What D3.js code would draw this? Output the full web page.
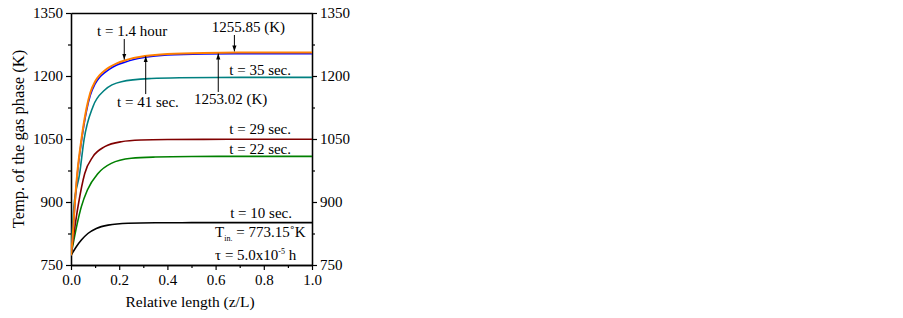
<!DOCTYPE html>
<html><head><meta charset="utf-8">
<script src="https://cdn.jsdelivr.net/npm/d3@7"></script>
<style>
html,body{margin:0;padding:0;background:#fff;}
svg text{font-family:"Liberation Serif","Times New Roman",serif;fill:#000;}
</style></head>
<body><svg id="chart" width="903" height="318"></svg>
<script>
// ---- data ----
const xTicks = [0.0, 0.2, 0.4, 0.6, 0.8, 1.0];
const yTicks = [750, 900, 1050, 1200, 1350];
const seriesNames = ["t = 10 sec.", "t = 22 sec.", "t = 29 sec.", "t = 35 sec.", "t = 41 sec.", "t = 1.4 hour"];
const seriesColors = ["#000000", "#008000", "#800000", "#008080", "#0000FF", "#FF8000"];
const zBlack  = [0, 0.022, 0.043, 0.070, 0.105, 0.154, 0.237, 0.35, 0.5, 0.7, 1.0];
const tBlack  = [773.15, 793.6, 809.5, 825, 837, 845, 849.5, 850.6, 850.8, 850.9, 850.9];
const zGreen  = [0, 0.026, 0.043, 0.068, 0.112, 0.167, 0.25, 0.35, 0.5, 0.7, 1.0];
const tGreen  = [773.15, 849, 889, 928.6, 968, 992, 1004, 1007, 1008.3, 1008.6, 1008.6];
const zRed    = [0, 0.029, 0.057, 0.091, 0.14, 0.209, 0.292, 0.4, 0.55, 0.75, 1.0];
const tRed    = [773.15, 889, 968, 1008, 1031.7, 1043.6, 1047.5, 1048.8, 1049.2, 1049.3, 1049.3];
const zTeal   = [0, 0.012, 0.036, 0.054, 0.091, 0.14, 0.209, 0.333, 0.45, 0.6, 0.8, 1.0];
const tTeal   = [773.15, 889, 968, 1048, 1127, 1166.7, 1186.5, 1194, 1196, 1196.6, 1196.8, 1196.8];
const zBlue   = [0, 0.006, 0.015, 0.026, 0.043, 0.064, 0.08, 0.10, 0.119, 0.14, 0.16, 0.19, 0.223, 0.26, 0.306, 0.40, 0.55, 0.75, 1.0];
const tBlue   = [773.15, 808, 886, 964, 1043, 1116, 1154, 1181, 1197, 1208, 1216.5, 1226, 1233, 1239.5, 1244.5, 1250, 1252.4, 1253.0, 1253.02];
const zOrange = [0, 0.006, 0.015, 0.026, 0.043, 0.064, 0.08, 0.10, 0.119, 0.14, 0.16, 0.19, 0.223, 0.26, 0.306, 0.40, 0.55, 0.75, 1.0];
const tOrange = [773.15, 809.5, 889, 968, 1048, 1122, 1160, 1187, 1202, 1213, 1221, 1230, 1237, 1243, 1247.5, 1252.5, 1255, 1255.8, 1255.85];
const seriesZ = [zBlack, zGreen, zRed, zTeal, zBlue, zOrange];
const seriesT = [tBlack, tGreen, tRed, tTeal, tBlue, tOrange];

// labels placed in data units
const labelText   = ["t = 1.4 hour", "t = 41 sec.", "1255.85 (K)", "1253.02 (K)", "t = 35 sec.", "t = 29 sec.", "t = 22 sec.", "t = 10 sec."];
const labelZ      = [0.108, 0.191, 0.584, 0.51, 0.913, 0.913, 0.913, 0.917];
const labelT      = [1295, 1126, 1305, 1133, 1201.7, 1062, 1013.6, 861];
const labelAnchor = ["start", "start", "start", "start", "end", "end", "end", "end"];
// arrows: z, from T, to T (arrowhead at "to")
const arrowZ     = [0.221, 0.31, 0.678, 0.611];
const arrowFromT = [1288, 1157, 1297.6, 1162];
const arrowToT   = [1239, 1247, 1258.5, 1253.5];

// ---- drawing ----
const svg = d3.select("#chart");
const x = d3.scaleLinear().domain([0, 1]).range([71, 312]);
const y = d3.scaleLinear().domain([750, 1350]).range([265, 13]);

svg.append("defs").append("marker")
  .attr("id", "ah").attr("viewBox", "0 0 10 10").attr("refX", 10).attr("refY", 5)
  .attr("markerWidth", 6).attr("markerHeight", 6).attr("markerUnits", "userSpaceOnUse")
  .attr("orient", "auto")
  .append("path").attr("d", "M0,1.5 L10,5 L0,8.5 Z").attr("fill", "#000");

const fs = "15px";
const minorX = [0.1, 0.3, 0.5, 0.7, 0.9];
const minorY = [825, 975, 1125, 1275];

svg.append("g").attr("transform", "translate(0,265)")
  .call(d3.axisBottom(x).tickValues(xTicks).tickFormat(d3.format(".1f")).tickSizeInner(5).tickSizeOuter(0).tickPadding(4));
svg.append("g").attr("transform", "translate(0,265)")
  .call(d3.axisBottom(x).tickValues(minorX).tickFormat("").tickSizeInner(3).tickSizeOuter(0));
svg.append("g").attr("transform", "translate(71,0)")
  .call(d3.axisLeft(y).tickValues(yTicks).tickFormat(d3.format("d")).tickSizeInner(5).tickSizeOuter(0).tickPadding(3));
svg.append("g").attr("transform", "translate(71,0)")
  .call(d3.axisLeft(y).tickValues(minorY).tickFormat("").tickSizeInner(3).tickSizeOuter(0));
svg.append("g").attr("transform", "translate(312,0)")
  .call(d3.axisRight(y).tickValues(yTicks).tickFormat(d3.format("d")).tickSizeInner(5).tickSizeOuter(0).tickPadding(3));
svg.append("g").attr("transform", "translate(312,0)")
  .call(d3.axisRight(y).tickValues(minorY).tickFormat("").tickSizeInner(3).tickSizeOuter(0));
svg.append("g").attr("transform", "translate(0,13)")
  .call(d3.axisTop(x).tickValues([]).tickSizeOuter(0));

svg.selectAll(".domain").attr("stroke", "#000").attr("stroke-width", 1.3);
svg.selectAll(".tick line").attr("stroke", "#000").attr("stroke-width", 1.2);
svg.selectAll(".tick text").style("font-size", fs).style("font-family", "'Liberation Serif', serif").attr("fill", "#000");

// axis titles
svg.append("text").attr("x", 190).attr("y", 307).attr("text-anchor", "middle")
  .style("font-size", "15.5px").text("Relative length (z/L)");
svg.append("text").attr("transform", "translate(24," + 139 + ") rotate(-90)")
  .attr("text-anchor", "middle").style("font-size", "16.5px").text("Temp. of the gas phase (K)");

// lines
svg.append("clipPath").attr("id", "clip").append("rect")
  .attr("x", 71).attr("y", 13).attr("width", 241).attr("height", 252);
const line = d3.line().x(d => x(d[0])).y(d => y(d[1])).curve(d3.curveMonotoneX);
const pg = svg.append("g").attr("clip-path", "url(#clip)");
seriesNames.forEach((n, i) => {
  const pts = seriesZ[i].map((z, j) => [z, seriesT[i][j]]);
  pg.append("path").datum(pts).attr("d", line).attr("fill", "none")
    .attr("stroke", seriesColors[i]).attr("stroke-width", i === 5 ? 2 : 1.6);
});

// annotations
labelText.forEach((t, i) => {
  svg.append("text").attr("x", x(labelZ[i])).attr("y", y(labelT[i]))
    .attr("text-anchor", labelAnchor[i]).style("font-size", fs).text(t);
});
arrowZ.forEach((z, i) => {
  svg.append("line").attr("x1", x(z)).attr("x2", x(z))
    .attr("y1", y(arrowFromT[i])).attr("y2", y(arrowToT[i]))
    .attr("stroke", "#000").attr("stroke-width", 1).attr("marker-end", "url(#ah)");
});

// inlet conditions
const t1 = svg.append("text").attr("x", x(0.598)).attr("y", y(816)).style("font-size", fs);
t1.append("tspan").text("T");
t1.append("tspan").attr("dy", 4).style("font-size", "8px").text("in.");
t1.append("tspan").attr("dy", -4).text(" = 773.15\u02DAK");
const t2 = svg.append("text").attr("x", x(0.598)).attr("y", y(762)).style("font-size", fs);
t2.append("tspan").text("\u03C4 = 5.0x10");
t2.append("tspan").attr("dy", -6).style("font-size", "8px").text("-5");
t2.append("tspan").attr("dy", 6).text(" h");
</script></body></html>
